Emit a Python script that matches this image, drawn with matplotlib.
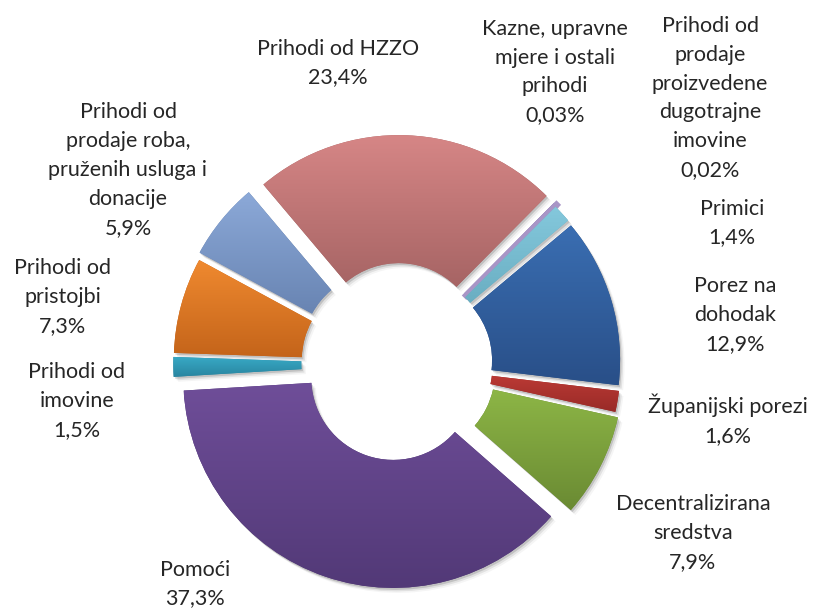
import numpy as np
import matplotlib
matplotlib.use("Agg")
import matplotlib.pyplot as plt
from matplotlib.patches import Wedge
from matplotlib.colors import to_rgb

plt.rcParams['font.family'] = ['Lato', 'DejaVu Sans']

# podaci (udio u %)
names = ["Porez na\ndohodak", "Županijski porezi", "Decentralizirana\nsredstva",
         "Pomoći", "Prihodi od\nimovine", "Prihodi od\npristojbi",
         "Prihodi od\nprodaje roba,\npruženih usluga i\ndonacije",
         "Prihodi od HZZO", "Kazne, upravne\nmjere i ostali\nprihodi",
         "Prihodi od\nprodaje\nproizvedene\ndugotrajne\nimovine", "Primici"]
values = [12.9, 1.6, 7.9, 37.3, 1.5, 7.3, 5.9, 23.4, 0.03, 0.02, 1.4]
value_labels = ["12,9%", "1,6%", "7,9%", "37,3%", "1,5%", "7,3%", "5,9%",
                "23,4%", "0,03%", "0,02%", "1,4%"]

# boje (gore, dolje) za gradijent
top_colors = ["#3A6EB2", "#BC3A35", "#8DB646", "#6F4E99", "#38A9C5", "#F08A30",
              "#8CA9D8", "#D68686", "#B8D08C", "#A895C6", "#84C8DC"]
bot_colors = ["#294F88", "#982A27", "#6A8A33", "#523977", "#2985A0", "#C4641A",
              "#6884B2", "#A66464", "#98B06C", "#8E7AAC", "#6AAEC2"]
explode = [0.06, 0.06, 0.08, 0.07, 0.07, 0.07, 0.085, 0.09, 0.07, 0.07, 0.06]

# položaji natpisa (px od vrha slike)
label_pos = [(735, 315), (728, 420), (693, 533), (195, 584), (77, 401),
             (63, 297), (128, 170), (338, 63), (555, 72), (710, 98), (732, 223)]

W, H = 815, 608
fig = plt.figure(figsize=(W / 100, H / 100), dpi=100)
ax = fig.add_axes([0, 0, 1, 1])

cx, cy = 398, H - 364
R = 210
wedges, _ = ax.pie(values, explode=[e * R for e in explode], startangle=40,
                   counterclock=False, radius=R, center=(cx, cy),
                   wedgeprops=dict(width=128, linewidth=0))

for i, w in enumerate(wedges):
    w.set_zorder(3)
    # sjena
    for dx, dy, a in [(1.5, -2, 0.14), (3, -3.5, 0.08), (4.5, -5, 0.04)]:
        s = Wedge((w.center[0] + dx, w.center[1] + dy), w.r, w.theta1, w.theta2,
                  width=w.width, facecolor="#000000", alpha=a, linewidth=0, zorder=1)
        ax.add_patch(s)
    if values[i] < 0.05:
        if i == 9:
            w.set_facecolor(top_colors[i])
            w.set_edgecolor(top_colors[i])
            w.set_linewidth(4.5)
        else:
            w.set_visible(False)
        continue
    w.set_facecolor(bot_colors[i])
    ext = w.get_path().get_extents()
    c1 = np.array(to_rgb(top_colors[i]))
    c2 = np.array(to_rgb(bot_colors[i]))
    t = np.linspace(0, 1, 256)[:, None]
    grad = (c1 * (1 - t) + c2 * t)[:, None, :]
    im = ax.imshow(grad, extent=(ext.x0, ext.x1, ext.y0, ext.y1), origin="upper",
                   aspect="auto", zorder=4, interpolation="bilinear")
    im.set_clip_path(w)

for i, (x, y) in enumerate(label_pos):
    ax.text(x, H - y, names[i] + "\n" + value_labels[i], ha="center", va="center",
            fontsize=15.5, color="#262626", linespacing=1.55, zorder=6)

ax.set_xlim(0, W)
ax.set_ylim(0, H)
ax.set_aspect("equal")
ax.axis("off")
fig.savefig("out.png", dpi=100)
